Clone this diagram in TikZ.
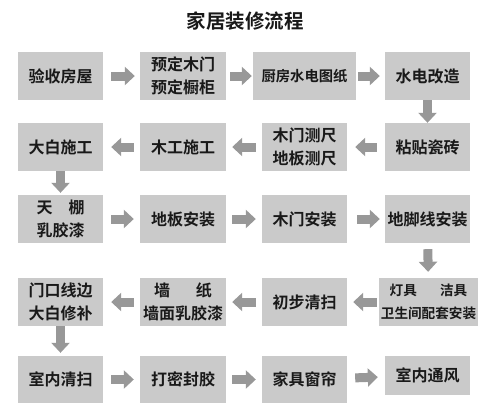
\documentclass[tikz,border=0pt]{standalone}
\usepackage{fontspec}
\setmainfont{Noto Sans CJK SC}[BoldFont={Noto Sans CJK SC Bold}]
\usetikzlibrary{arrows.meta}
\definecolor{boxgray}{RGB}{202,202,202}
\definecolor{arrgray}{RGB}{152,152,152}
\definecolor{txt}{RGB}{25,25,25}
\tikzset{
  box/.style={fill=boxgray, draw=none, inner sep=0pt, minimum width=85bp, minimum height=48bp,
    align=center, text=txt, font=\fontsize{16bp}{23bp}\selectfont\bfseries},
  harr/.style={draw=arrgray, line width=9bp, -{Triangle[width=18bp,length=10bp]}},
  varr/.style={draw=arrgray, line width=9bp, -{Triangle[width=18bp,length=10bp]}},
}
\begin{document}
\begin{tikzpicture}[x=1bp,y=-1bp]
\useasboundingbox (0,0) rectangle (490,403);
\node[text=txt, font=\fontsize{19.5bp}{22bp}\selectfont\bfseries] (title) at (245,21) {家居装修流程};
% row 1
\node[box] (a1) at (60.5,76) {验收房屋};
\node[box, minimum width=86bp] (a2) at (183,76) {预定木门\\预定橱柜};
\node[box, minimum width=103bp, font=\fontsize{14.3bp}{20bp}\selectfont\bfseries] (a3) at (304.5,76) {厨房水电图纸};
\node[box] (a4) at (427.5,76) {水电改造};
% row 2
\node[box] (b1) at (60.5,147) {大白施工};
\node[box, minimum width=86bp] (b2) at (183,147) {木工施工};
\node[box] (b3) at (304.5,147) {木门测尺\\地板测尺};
\node[box] (b4) at (427.5,147) {粘贴瓷砖};
% row 3
\node[box] (c1) at (60.5,219) {天\hspace{1em}棚\\乳胶漆};
\node[box, minimum width=86bp] (c2) at (183,219) {地板安装};
\node[box] (c3) at (304.5,219) {木门安装};
\node[box] (c4) at (427.5,219) {地脚线安装};
% row 4
\node[box] (d1) at (60.5,302) {门口线边\\大白修补};
\node[box, minimum width=86bp] (d2) at (183,302) {墙\hspace{1.6em}纸\\墙面乳胶漆};
\node[box] (d3) at (304.5,302) {初步清扫};
\node[box, minimum width=99bp, font=\fontsize{13.6bp}{23bp}\selectfont\bfseries] (d4) at (428.5,302) {灯具\hspace{1.7em}洁具\\卫生间配套安装};
% row 5
\node[box, minimum height=47bp] (e1) at (60.5,379.5) {室内清扫};
\node[box, minimum width=86bp, minimum height=47bp] (e2) at (183,379.5) {打密封胶};
\node[box, minimum height=47bp] (e3) at (304.5,379.5) {家具窗帘};
\node[box, minimum height=39bp] (e4) at (427.5,375.5) {\raisebox{-5bp}{室内通风}};
% arrows row 1
\draw[harr, shorten <=8bp, shorten >=5bp] (a1) -- (a2);
\draw[harr, shorten <=4bp, shorten >=1bp] (a2) -- (a3);
\draw[harr, shorten <=2bp, shorten >=5bp] (a3) -- (a4);
\draw[varr, shorten <=0bp, shorten >=0bp] (a4) -- (b4);
% row 2
\draw[harr, shorten <=8bp, shorten >=8bp] (b4) -- (b3);
\draw[harr, shorten <=6bp, shorten >=6bp] (b3) -- (b2);
\draw[harr, shorten <=6bp, shorten >=8bp] (b2) -- (b1);
\draw[varr, shorten <=0bp, shorten >=2bp] (b1) -- (c1);
% row 3
\draw[harr, shorten <=8bp, shorten >=6bp] (c1) -- (c2);
\draw[harr, shorten <=6bp, shorten >=6bp] (c2) -- (c3);
\draw[harr, shorten <=10bp, shorten >=5bp] (c3) -- (c4);
\draw[varr, shorten <=6bp, shorten >=6bp] (c4) -- (d4);
% row 4
\draw[harr, shorten <=2bp, shorten >=6bp] (d4) -- (d3);
\draw[harr, shorten <=6bp, shorten >=6bp] (d3) -- (d2);
\draw[harr, shorten <=6bp, shorten >=8bp] (d2) -- (d1);
\draw[varr, shorten <=0bp, shorten >=3bp] (d1) -- (e1);
% row 5
\draw[harr, shorten <=8bp, shorten >=6bp] (e1) -- (e2);
\draw[harr, shorten <=6bp, shorten >=6bp] (e2) -- (e3);
\draw[harr, shorten <=8bp, shorten >=7bp] (e3) -- (e4);
\end{tikzpicture}
\end{document}
